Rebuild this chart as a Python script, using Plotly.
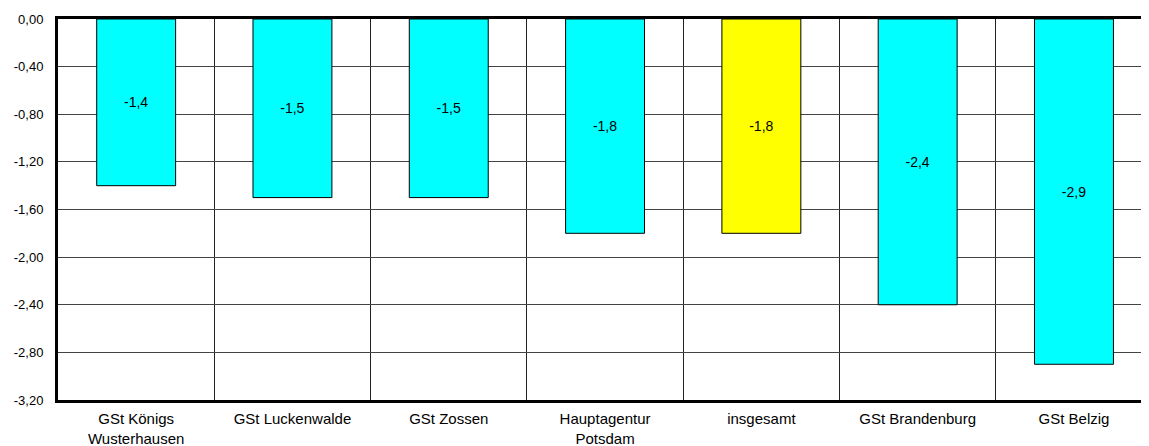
import plotly.graph_objects as go

categories = ["GSt Königs<br>Wusterhausen", "GSt Luckenwalde", "GSt Zossen",
              "Hauptagentur<br>Potsdam", "insgesamt", "GSt Brandenburg", "GSt Belzig"]
values = [-1.4, -1.5, -1.5, -1.8, -1.8, -2.4, -2.9]
bar_colors = ["#00FFFF", "#00FFFF", "#00FFFF", "#00FFFF", "#FFFF00", "#00FFFF", "#00FFFF"]
y_ticks = [0, -0.4, -0.8, -1.2, -1.6, -2.0, -2.4, -2.8, -3.2]

y_ticktext = [f"{v:.2f}".replace(".", ",").replace("-0,00", "0,00") for v in y_ticks]
bar_text = [f"{v:.1f}".replace(".", ",") for v in values]

FONT = "Liberation Sans, Arial, sans-serif"

fig = go.Figure()
fig.add_trace(go.Bar(
    x=categories, y=values,
    marker=dict(color=bar_colors, line=dict(color="black", width=1)),
    width=0.505,
    text=bar_text,
    textposition="inside",
    insidetextanchor="middle",
    textangle=0,
    textfont=dict(family=FONT, size=14, color="black"),
    hoverinfo="skip",
))

fig.update_layout(
    width=1141, height=438,
    margin=dict(l=50, r=0, t=11, b=46, pad=0, autoexpand=False),
    paper_bgcolor="white", plot_bgcolor="white",
    showlegend=False,
    font=dict(family=FONT, size=13, color="black"),
)
fig.update_xaxes(
    type="category",
    range=[-0.5, 6.48],
    tickson="boundaries",
    automargin=False,
    showgrid=True, gridcolor="#222", gridwidth=1,
    showline=True, linecolor="black", linewidth=3, mirror=True,
    ticks="", tickfont=dict(family=FONT, size=15, color="black"),
    ticklabelstandoff=3,
)
fig.update_yaxes(
    range=[-3.2, 0],
    automargin=False,
    tickvals=y_ticks, ticktext=y_ticktext,
    showgrid=True, gridcolor="#444", gridwidth=1,
    zeroline=False,
    showline=True, linecolor="black", linewidth=3,
    ticks="", tickfont=dict(family=FONT, size=13, color="black"),
    ticklabelstandoff=9,
)

fig.write_html("out.html")
